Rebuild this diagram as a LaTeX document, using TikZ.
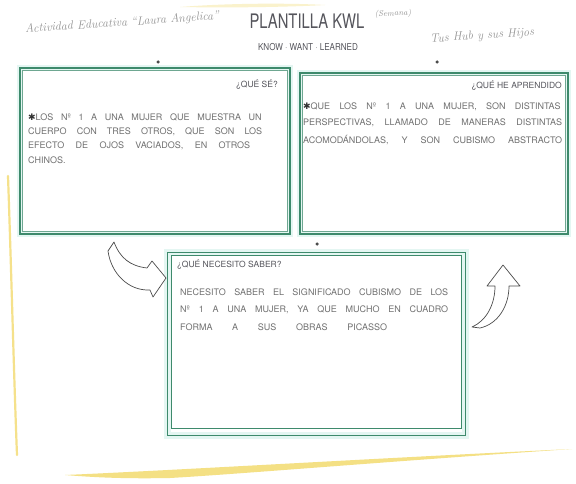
\documentclass[tikz,border=0pt]{standalone}
\usepackage{fontspec}
\setsansfont{TeX Gyre Heros}
\newfontfamily\dejavu{DejaVu Sans}
\definecolor{kgreen}{RGB}{62,138,108}
\definecolor{khalo}{RGB}{228,246,242}
\definecolor{kgray}{RGB}{112,112,112}
\definecolor{kdark}{RGB}{85,85,92}
\definecolor{kyellow}{RGB}{242,218,110}
\begin{document}
\begin{tikzpicture}[x=1pt,y=-1pt,
  kbox/.style={draw=kgreen, line width=1.6pt, inner sep=0pt,
    preaction={draw=khalo, line width=6pt}},
  mbox/.style={draw=kgreen, line width=1pt, inner sep=0pt,
    preaction={draw=khalo, line width=7pt}},
  innerline/.style={draw=kgreen!75, line width=0.6pt},
  hand/.style={font=\fontsize{9}{10}\selectfont\sffamily, text=kgray, inner sep=0pt, anchor=west},
  boxlabel/.style={font=\fontsize{8.5}{9}\selectfont\sffamily, text=kdark, inner sep=0pt},
  handhead/.style={font=\itshape\fontsize{12}{13}\selectfont, text=kgray!75, inner sep=0pt},
  dotmark/.style={circle, fill=black!70, inner sep=0pt, minimum size=3.5pt},
  harrow/.style={draw=black!70, line width=0.7pt, fill=white, line join=round}
]
\useasboundingbox (0,0) rectangle (576,484);
\fill[white] (0,0) rectangle (576,484);

% yellow stains
\fill[kyellow!35] (180,7) .. controls (230,3) and (290,3) .. (325,5) .. controls (290,7) and (230,8) .. (180,7) -- cycle;
\draw[kyellow!80, line width=2.2pt, line cap=round] (8,176) .. controls (11,260) and (14,380) .. (17,455);
\fill[kyellow!85] (65,475) .. controls (180,470) and (380,458) .. (572,449)
   .. controls (380,462) and (240,474) .. (170,478) .. controls (120,479) and (90,477) .. (65,475) -- cycle;

% header
\node[font=\sffamily\fontsize{20}{20}\selectfont, text=kdark, xscale=0.74] (title) at (307,21) {PLANTILLA KWL};
\node[font=\sffamily\fontsize{9.5}{10}\selectfont, text=kdark, xscale=0.85] (subtitle) at (308,47) {KNOW · WANT · LEARNED};
\node[handhead, rotate=4] (school) at (122,23) {Actividad Educativa ``Laura Angelica''};
\node[handhead, font=\itshape\fontsize{8}{9}\selectfont, rotate=3] (week) at (393,14) {(Semana)};
\node[handhead, rotate=4] (name) at (482,36) {Tus Hub y sus Hijos};

% markers
\node[dotmark] (m1) at (158,62) {};
\node[dotmark] (m2) at (437,62) {};
\node[dotmark] (m3) at (317,244) {};

% boxes
\node[kbox, minimum width=270pt, minimum height=166pt] (know) at (155,151) {};
\draw[innerline] ([shift={(3.5,3.5)}]know.north west) rectangle ([shift={(-3.5,-3.5)}]know.south east);
\node[kbox, minimum width=268pt, minimum height=161pt] (learned) at (434,153.5) {};
\draw[innerline] ([shift={(3.5,3.5)}]learned.north west) rectangle ([shift={(-3.5,-3.5)}]learned.south east);
\node[mbox, minimum width=298pt, minimum height=183pt] (want) at (316,343.5) {};
\draw[draw=kgreen, line width=1pt] ([shift={(5,4)}]want.north west) rectangle ([shift={(-4,-7)}]want.south east);

% labels
\node[boxlabel, anchor=east] (lk) at (278,85) {¿QUÉ SÉ?};
\node[boxlabel, anchor=east] (ll) at (562,86) {¿QUÉ HE APRENDIDO};
\node[boxlabel, anchor=west] (lw) at (177,265) {¿QUÉ NECESITO SABER?};

% left box text
\node[hand] (k1) at (28,117) {{\dejavu\color{black!80}✱}\makebox[226pt][s]{LOS Nº 1 A UNA MUJER QUE MUESTRA UN}};
\node[hand] (k2) at (28,132) {\makebox[234pt][s]{CUERPO CON TRES OTROS, QUE SON LOS}};
\node[hand] (k3) at (28,146) {\makebox[222pt][s]{EFECTO DE OJOS VACIADOS, EN OTROS}};
\node[hand] (k4) at (28,160) {CHINOS.};

% right box text
\node[hand] (w1) at (303,107) {{\dejavu\color{black!80}✱}\makebox[250pt][s]{QUE LOS Nº 1 A UNA MUJER, SON DISTINTAS}};
\node[hand] (w2) at (303,123) {\makebox[259pt][s]{PERSPECTIVAS, LLAMADO DE MANERAS DISTINTAS}};
\node[hand] (w3) at (303,140) {\makebox[259pt][s]{ACOMODÁNDOLAS, Y SON CUBISMO ABSTRACTO}};

% middle box text
\node[hand] (n1) at (180,292) {\makebox[268pt][s]{NECESITO SABER EL SIGNIFICADO CUBISMO DE LOS}};
\node[hand] (n2) at (180,310) {\makebox[268pt][s]{Nº 1 A UNA MUJER, YA QUE MUCHO EN CUADRO}};
\node[hand] (n3) at (180,327) {\makebox[207pt][s]{FORMA A SUS OBRAS PICASSO}};

% curved block arrows
\draw[harrow] (114,242) .. controls (120,258) and (130,266) .. (147,268) -- (152,261) -- (166,278)
   -- (153,297) -- (150,290) .. controls (128,291) and (111,273) .. (108,251) -- cycle;
\draw[harrow] (472,327) .. controls (486,321) and (495,305) .. (495,286) -- (487,286) -- (503,265)
   -- (520,286) -- (509,286) .. controls (509,306) and (498,324) .. (480,328) -- cycle;
\end{tikzpicture}
\end{document}
